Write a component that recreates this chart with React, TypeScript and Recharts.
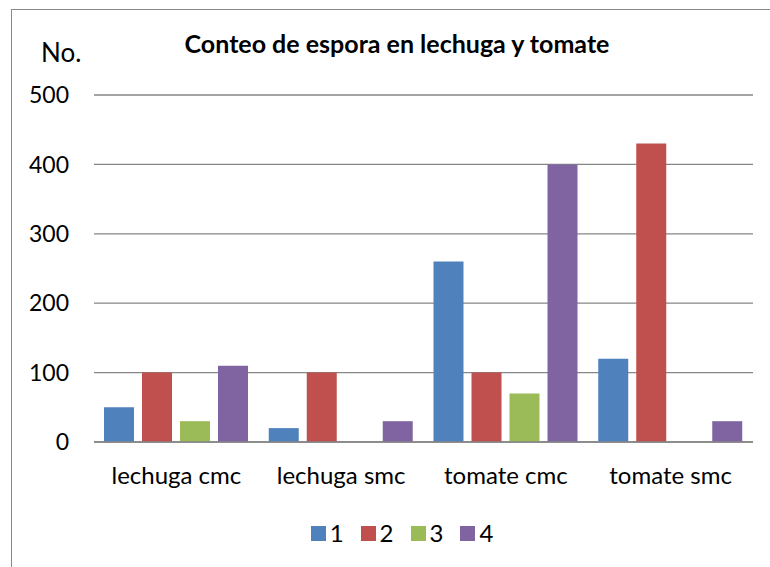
import { BarChart, Bar, XAxis, YAxis, CartesianGrid, Legend } from "recharts";

const categories = ["lechuga cmc", "lechuga smc", "tomate cmc", "tomate smc"];
const serie1 = [50, 20, 260, 120];
const serie2 = [100, 100, 100, 430];
const serie3 = [30, 0, 70, 0];
const serie4 = [110, 30, 400, 30];
const seriesNames = ["1", "2", "3", "4"];
const seriesColors = ["#4F81BD", "#C0504D", "#9BBB59", "#8064A2"];
const yTicks = [0, 100, 200, 300, 400, 500];

const data = categories.map((name, i) => ({
  name,
  s1: serie1[i],
  s2: serie2[i],
  s3: serie3[i],
  s4: serie4[i],
}));

const font = "Lato, 'Open Sans', sans-serif";

const renderLegend = (props: any) => (
  <div style={{ display: "flex", justifyContent: "center", gap: 17, fontFamily: font }}>
    {props.payload.map((entry: any, index: number) => (
      <div key={index} style={{ display: "flex", alignItems: "center" }}>
        <span style={{ width: 15, height: 15, background: entry.color, marginRight: 4, display: "inline-block" }} />
        <span style={{ fontSize: 24, lineHeight: "24px", color: "#000" }}>{entry.value}</span>
      </div>
    ))}
  </div>
);

export default function App() {
  return (
    <div style={{ position: "absolute", left: 0, top: 0, width: 770, height: 567, background: "#fff", overflow: "hidden" }}>
      <div
        style={{
          position: "absolute",
          left: 11,
          top: 9,
          width: 800,
          height: 600,
          borderLeft: "1px solid #888",
          borderTop: "1px solid #888",
        }}
      />
      <BarChart
        width={770}
        height={567}
        data={data}
        margin={{ top: 95, right: 17, bottom: 95, left: 0 }}
        barSize={30}
        barGap={8}
        style={{ position: "absolute", left: 0, top: 0 }}
      >
        <CartesianGrid vertical={false} stroke="#868686" strokeWidth={1.3} />
        <XAxis
          dataKey="name"
          height={30}
          axisLine={{ stroke: "#868686", strokeWidth: 1.3 }}
          tickLine={false}
          tickSize={0}
          tickMargin={25}
          tick={{ fill: "#000", fontSize: 24, fontFamily: font }}
        />
        <YAxis
          width={94}
          domain={[0, 500]}
          ticks={yTicks}
          axisLine={false}
          tickLine={false}
          tickSize={0}
          tickMargin={25}
          tick={{ fill: "#000", fontSize: 23, fontFamily: font }}
        />
        <Legend
          verticalAlign="middle"
          layout="horizontal"
          content={renderLegend}
          wrapperStyle={{ top: 521, left: 17, width: 770, bottom: "auto" }}
        />
        {["s1", "s2", "s3", "s4"].map((key, i) => (
          <Bar key={key} dataKey={key} name={seriesNames[i]} fill={seriesColors[i]} isAnimationActive={false} />
        ))}
      </BarChart>
      <svg width={770} height={567} style={{ position: "absolute", left: 0, top: 0, pointerEvents: "none" }}>
        <text x={397} y={53} textAnchor="middle" fontFamily={font} fontWeight="bold" fontSize={25} fill="#000">
          Conteo de espora en lechuga y tomate
        </text>
        <text x={41} y={62} fontFamily={font} fontSize={26} fill="#000">
          No.
        </text>
      </svg>
    </div>
  );
}
